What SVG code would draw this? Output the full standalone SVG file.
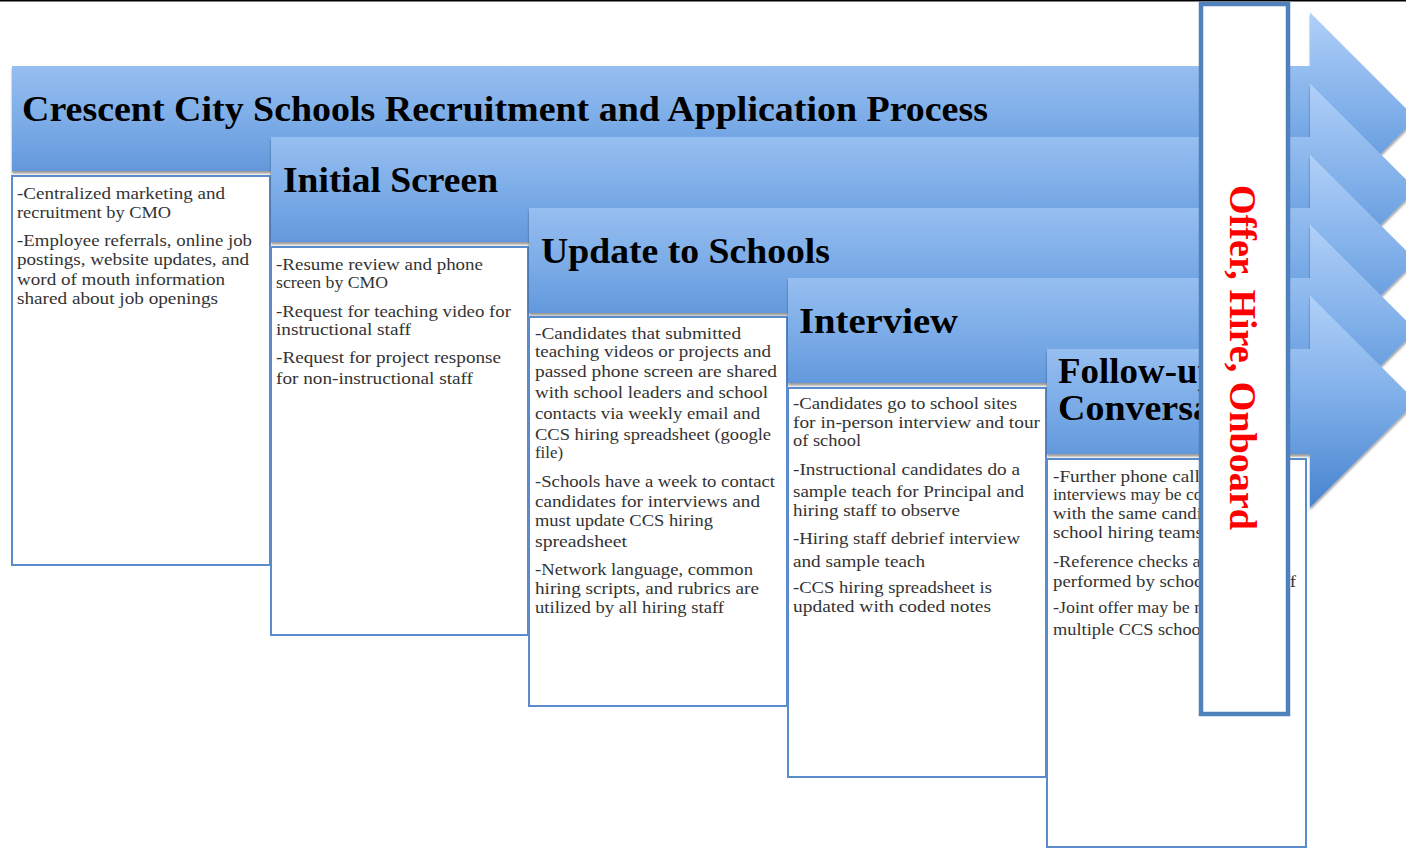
<svg xmlns="http://www.w3.org/2000/svg" width="1406" height="849" viewBox="0 0 1406 849">
  <defs>
    <linearGradient id="bandFill" x1="0" y1="0" x2="0" y2="1">
      <stop offset="0" stop-color="#b0d0f8"/>
      <stop offset="0.5" stop-color="#7dade8"/>
      <stop offset="1" stop-color="#4884cf"/>
    </linearGradient>
    <filter id="lift" x="-5%" y="-10%" width="110%" height="125%">
      <feDropShadow dx="0" dy="2.5" stdDeviation="1" flood-color="#000" flood-opacity="0.4"/>
    </filter>
  </defs>
  <style>
    .band { fill: url(#bandFill); filter: url(#lift); }
    .panel { fill: #ffffff; stroke: #5a8ccb; stroke-width: 2; }
    .head { font-family: "Liberation Serif", "Times New Roman", serif; font-weight: bold; font-size: 36px; fill: #000; }
    .body { font-family: "Liberation Serif", "Times New Roman", serif; font-size: 16px; fill: #333; }
    .stage { fill: #ffffff; stroke: #4f81bd; stroke-width: 4.5; }
    .stage-label { font-family: "Liberation Serif", "Times New Roman", serif; font-weight: bold; font-size: 38px; fill: #ff0000; }
  </style>

  <rect x="0" y="0" width="1406" height="1.5" fill="#000"/>

  <!-- stage 1: recruitment -->
  <g id="recruitment">
    <path class="band" d="M12,66 H1310 V12.5 L1416,118.5 L1310,224.5 V171 H12 Z"/>
    <text class="head" x="22" y="121" textLength="966" lengthAdjust="spacingAndGlyphs">Crescent City Schools Recruitment and Application Process</text>
    <rect class="panel" x="12" y="176" width="258" height="389"/>
    <text class="body" x="17" y="199" textLength="208" lengthAdjust="spacingAndGlyphs">-Centralized marketing and</text>
    <text class="body" x="17" y="218" textLength="154" lengthAdjust="spacingAndGlyphs">recruitment by CMO</text>
    <text class="body" x="17" y="246" textLength="235" lengthAdjust="spacingAndGlyphs">-Employee referrals, online job</text>
    <text class="body" x="17" y="265" textLength="232" lengthAdjust="spacingAndGlyphs">postings, website updates, and</text>
    <text class="body" x="17" y="285" textLength="208" lengthAdjust="spacingAndGlyphs">word of mouth information</text>
    <text class="body" x="17" y="304" textLength="201" lengthAdjust="spacingAndGlyphs">shared about job openings</text>
  </g>

  <!-- stage 2: initial screen -->
  <g id="initial-screen">
    <path class="band" d="M271,137 H1310 V83.5 L1416,189.5 L1310,295.5 V242 H271 Z"/>
    <text class="head" x="283" y="192" textLength="215" lengthAdjust="spacingAndGlyphs">Initial Screen</text>
    <rect class="panel" x="271" y="247" width="257" height="388"/>
    <text class="body" x="276" y="270" textLength="207" lengthAdjust="spacingAndGlyphs">-Resume review and phone</text>
    <text class="body" x="276" y="288" textLength="112" lengthAdjust="spacingAndGlyphs">screen by CMO</text>
    <text class="body" x="276" y="317" textLength="235" lengthAdjust="spacingAndGlyphs">-Request for teaching video for</text>
    <text class="body" x="276" y="335" textLength="135" lengthAdjust="spacingAndGlyphs">instructional staff</text>
    <text class="body" x="276" y="363" textLength="225" lengthAdjust="spacingAndGlyphs">-Request for project response</text>
    <text class="body" x="276" y="384" textLength="197" lengthAdjust="spacingAndGlyphs">for non-instructional staff</text>
  </g>

  <!-- stage 3: update to schools -->
  <g id="update-to-schools">
    <path class="band" d="M529,208 H1310 V154.5 L1416,260.5 L1310,366.5 V313 H529 Z"/>
    <text class="head" x="541" y="263" textLength="289" lengthAdjust="spacingAndGlyphs">Update to Schools</text>
    <rect class="panel" x="529" y="317" width="258" height="389"/>
    <text class="body" x="535" y="339" textLength="206" lengthAdjust="spacingAndGlyphs">-Candidates that submitted</text>
    <text class="body" x="535" y="357" textLength="236" lengthAdjust="spacingAndGlyphs">teaching videos or projects and</text>
    <text class="body" x="535" y="377" textLength="242" lengthAdjust="spacingAndGlyphs">passed phone screen are shared</text>
    <text class="body" x="535" y="398" textLength="233" lengthAdjust="spacingAndGlyphs">with school leaders and school</text>
    <text class="body" x="535" y="419" textLength="225" lengthAdjust="spacingAndGlyphs">contacts via weekly email and</text>
    <text class="body" x="535" y="440" textLength="236" lengthAdjust="spacingAndGlyphs">CCS hiring spreadsheet (google</text>
    <text class="body" x="535" y="458" textLength="28" lengthAdjust="spacingAndGlyphs">file)</text>
    <text class="body" x="535" y="487" textLength="240" lengthAdjust="spacingAndGlyphs">-Schools have a week to contact</text>
    <text class="body" x="535" y="507" textLength="225" lengthAdjust="spacingAndGlyphs">candidates for interviews and</text>
    <text class="body" x="535" y="526" textLength="178" lengthAdjust="spacingAndGlyphs">must update CCS hiring</text>
    <text class="body" x="535" y="547" textLength="92" lengthAdjust="spacingAndGlyphs">spreadsheet</text>
    <text class="body" x="535" y="575" textLength="218" lengthAdjust="spacingAndGlyphs">-Network language, common</text>
    <text class="body" x="535" y="594" textLength="224" lengthAdjust="spacingAndGlyphs">hiring scripts, and rubrics are</text>
    <text class="body" x="535" y="613" textLength="189" lengthAdjust="spacingAndGlyphs">utilized by all hiring staff</text>
  </g>

  <!-- stage 4: interview -->
  <g id="interview">
    <path class="band" d="M788,278 H1310 V224.5 L1416,330.5 L1310,436.5 V383 H788 Z"/>
    <text class="head" x="799" y="333" textLength="159" lengthAdjust="spacingAndGlyphs">Interview</text>
    <rect class="panel" x="788" y="388" width="258" height="389"/>
    <text class="body" x="793" y="409" textLength="224" lengthAdjust="spacingAndGlyphs">-Candidates go to school sites</text>
    <text class="body" x="793" y="428" textLength="247" lengthAdjust="spacingAndGlyphs">for in-person interview and tour</text>
    <text class="body" x="793" y="446" textLength="68" lengthAdjust="spacingAndGlyphs">of school</text>
    <text class="body" x="793" y="475" textLength="227" lengthAdjust="spacingAndGlyphs">-Instructional candidates do a</text>
    <text class="body" x="793" y="497" textLength="231" lengthAdjust="spacingAndGlyphs">sample teach for Principal and</text>
    <text class="body" x="793" y="516" textLength="167" lengthAdjust="spacingAndGlyphs">hiring staff to observe</text>
    <text class="body" x="793" y="544" textLength="227" lengthAdjust="spacingAndGlyphs">-Hiring staff debrief interview</text>
    <text class="body" x="793" y="567" textLength="132" lengthAdjust="spacingAndGlyphs">and sample teach</text>
    <text class="body" x="793" y="593" textLength="199" lengthAdjust="spacingAndGlyphs">-CCS hiring spreadsheet is</text>
    <text class="body" x="793" y="612" textLength="198" lengthAdjust="spacingAndGlyphs">updated with coded notes</text>
  </g>

  <!-- stage 5: follow-up conversations -->
  <g id="follow-up">
    <path class="band" d="M1047,349 H1310 V295.5 L1416,401.5 L1310,507.5 V454 H1047 Z"/>
    <text class="head" x="1058" y="383" textLength="160" lengthAdjust="spacingAndGlyphs">Follow-up</text>
    <text class="head" x="1058" y="420" textLength="232" lengthAdjust="spacingAndGlyphs">Conversations</text>
    <rect class="panel" x="1047" y="459" width="259" height="388"/>
    <text class="body" x="1053" y="482" textLength="175" lengthAdjust="spacingAndGlyphs">-Further phone calls or</text>
    <text class="body" x="1053" y="500" textLength="205" lengthAdjust="spacingAndGlyphs">interviews may be conducted</text>
    <text class="body" x="1053" y="519" textLength="180" lengthAdjust="spacingAndGlyphs">with the same candidate</text>
    <text class="body" x="1053" y="538" textLength="150" lengthAdjust="spacingAndGlyphs">school hiring teams</text>
    <text class="body" x="1053" y="567" textLength="162" lengthAdjust="spacingAndGlyphs">-Reference checks are</text>
    <text class="body" x="1053" y="587" textLength="243" lengthAdjust="spacingAndGlyphs">performed by school hiring staff</text>
    <text class="body" x="1053" y="613" textLength="180" lengthAdjust="spacingAndGlyphs">-Joint offer may be made</text>
    <text class="body" x="1053" y="635" textLength="160" lengthAdjust="spacingAndGlyphs">multiple CCS schools</text>
  </g>

  <!-- final stage: vertical panel across the arrow heads -->
  <g id="offer-hire-onboard">
    <rect class="stage" x="1201" y="4" width="87" height="710"/>
    <text class="stage-label" transform="translate(1230,185) rotate(90)" x="0" y="0" textLength="345" lengthAdjust="spacingAndGlyphs">Offer, Hire, Onboard</text>
  </g>
</svg>
